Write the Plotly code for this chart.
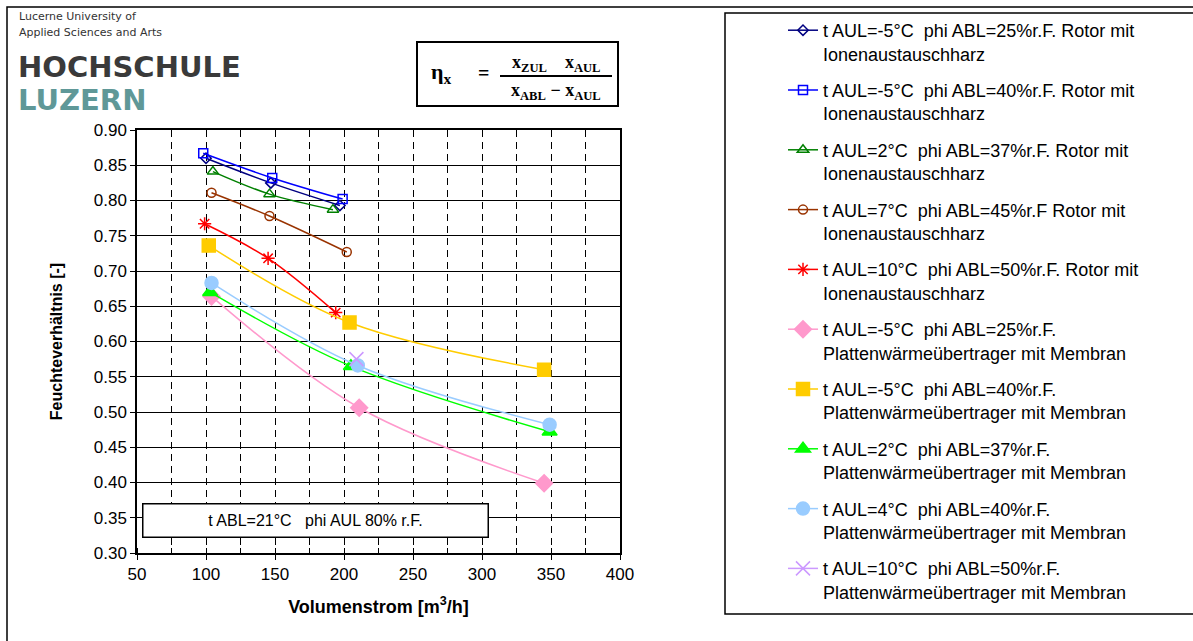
import plotly.graph_objects as go

# ---------------- data ----------------
x_rotor_m5_25 = [100, 147, 197]
y_rotor_m5_25 = [0.860, 0.825, 0.793]
x_rotor_m5_40 = [98, 148, 199]
y_rotor_m5_40 = [0.867, 0.832, 0.802]
x_rotor_2_37 = [105, 146, 192]
y_rotor_2_37 = [0.841, 0.809, 0.787]
x_rotor_7_45 = [104, 146, 202]
y_rotor_7_45 = [0.811, 0.778, 0.727]
x_rotor_10_50 = [99, 145, 194]
y_rotor_10_50 = [0.767, 0.718, 0.641]
x_platte_m5_25 = [104, 211, 345]
y_platte_m5_25 = [0.664, 0.506, 0.399]
x_platte_m5_40 = [102, 204, 345]
y_platte_m5_40 = [0.736, 0.627, 0.560]
x_platte_2_37 = [103, 205, 349]
y_platte_2_37 = [0.670, 0.565, 0.472]
x_platte_4_40 = [104, 210, 349]
y_platte_4_40 = [0.683, 0.566, 0.482]
x_platte_10_50 = [209]
y_platte_10_50 = [0.575]

S = "\u00a0"
names = [
    f"t AUL=-5°C{S} phi ABL=25%r.F. Rotor mit<br>Ionenaustauschharz",
    f"t AUL=-5°C{S} phi ABL=40%r.F. Rotor mit<br>Ionenaustauschharz",
    f"t AUL=2°C{S} phi ABL=37%r.F. Rotor mit<br>Ionenaustauschharz",
    f"t AUL=7°C{S} phi ABL=45%r.F Rotor mit<br>Ionenaustauschharz",
    f"t AUL=10°C{S} phi ABL=50%r.F. Rotor mit<br>Ionenaustauschharz",
    f"t AUL=-5°C{S} phi ABL=25%r.F.<br>Plattenwärmeübertrager mit Membran",
    f"t AUL=-5°C{S} phi ABL=40%r.F.<br>Plattenwärmeübertrager mit Membran",
    f"t AUL=2°C{S} phi ABL=37%r.F.<br>Plattenwärmeübertrager mit Membran",
    f"t AUL=4°C{S} phi ABL=40%r.F.<br>Plattenwärmeübertrager mit Membran",
    f"t AUL=10°C{S} phi ABL=50%r.F.<br>Plattenwärmeübertrager mit Membran",
]
xs = [x_rotor_m5_25, x_rotor_m5_40, x_rotor_2_37, x_rotor_7_45, x_rotor_10_50,
      x_platte_m5_25, x_platte_m5_40, x_platte_2_37, x_platte_4_40, x_platte_10_50]
ys = [y_rotor_m5_25, y_rotor_m5_40, y_rotor_2_37, y_rotor_7_45, y_rotor_10_50,
      y_platte_m5_25, y_platte_m5_40, y_platte_2_37, y_platte_4_40, y_platte_10_50]
colors = ["#000080", "#0000ff", "#008000", "#993300", "#ff0000",
          "#ff99cc", "#ffcc00", "#00ff00", "#99ccff", "#cc99ff"]
symbols = ["diamond-open", "square-open", "triangle-up-open", "circle-open", "asterisk-open",
           "diamond", "square", "triangle-up", "circle", "x-thin-open"]
sizes = [8, 9, 10, 9, 11, 13, 13, 13, 13, 14]

# ---------------- layout helpers (pixel -> paper) ----------------
W, H = 1193, 641
L, R, T, B = 137, 620, 130, 553
def px(x):
    return (x - L) / (R - L)
def py(y):
    return (B - y) / (B - T)

FONT = "Liberation Sans, Arial, sans-serif"

fig = go.Figure()
for i in range(10):
    fig.add_trace(go.Scatter(
        x=xs[i], y=ys[i], name=names[i], mode="lines+markers",
        line=dict(color=colors[i], width=1.5, shape="spline"),
        marker=dict(symbol=symbols[i], size=sizes[i], color=colors[i],
                    line=dict(color=colors[i], width=1.5)),
        legendgroup=f"g{i}",
    ))

fig.update_layout(
    width=W, height=H,
    margin=dict(l=L, r=W - R, t=T, b=H - B, autoexpand=False),
    paper_bgcolor="white", plot_bgcolor="white",
    font=dict(family=FONT, size=16, color="black"),
    showlegend=True,
    legend=dict(
        x=px(783), y=py(12), xanchor="left", yanchor="top",
        font=dict(family=FONT, size=18, color="black"),
        bgcolor="rgba(0,0,0,0)", borderwidth=0, maxheight=640,
        tracegroupgap=10, valign="top", traceorder="grouped",
    ),
    xaxis=dict(
        range=[50, 400], dtick=50, tick0=50,
        showgrid=True, gridcolor="black", gridwidth=1, griddash="7px,5px",
        ticks="outside", ticklen=5, tickcolor="black",
        minor=dict(dtick=25, tick0=50, showgrid=True, gridcolor="black", gridwidth=1,
                   griddash="7px,5px", ticks="inside", ticklen=5, tickcolor="black"),
        showline=True, linecolor="black", linewidth=1.5, mirror=True,
        tickfont=dict(family=FONT, size=17), zeroline=False,
        title=dict(text="<b>Volumenstrom [m<sup>3</sup>/h]</b>", standoff=17,
                   font=dict(family=FONT, size=18)),
    ),
    yaxis=dict(
        range=[0.30, 0.90], dtick=0.05, tick0=0.30, tickformat=".2f",
        showgrid=True, gridcolor="black", gridwidth=1,
        ticks="outside", ticklen=5, tickcolor="black",
        showline=True, linecolor="black", linewidth=1.5, mirror=True,
        tickfont=dict(family=FONT, size=17), zeroline=False,
        title=dict(text="<b>Feuchteverhältnis [-]</b>", standoff=27,
                   font=dict(family=FONT, size=16)),
    ),
)

shapes = []
# outer chart frame
shapes.append(dict(type="rect", xref="paper", yref="paper",
                   x0=px(7), x1=px(1205), y0=py(7), y1=py(660),
                   line=dict(color="black", width=1.5), layer="below"))
# legend frame
shapes.append(dict(type="rect", xref="paper", yref="paper",
                   x0=px(725), x1=px(1205), y0=py(13), y1=py(614),
                   line=dict(color="black", width=1.5), layer="below"))
# formula box
shapes.append(dict(type="rect", xref="paper", yref="paper",
                   x0=px(417), x1=px(618), y0=py(42), y1=py(106),
                   line=dict(color="black", width=2)))
# fraction bar
shapes.append(dict(type="line", xref="paper", yref="paper",
                   x0=px(500), x1=px(612), y0=py(76), y1=py(76),
                   line=dict(color="black", width=2)))
fig.update_layout(shapes=shapes)

ann = []
# logo
ann.append(dict(text="Lucerne University of", x=px(17), y=py(17), xref="paper", yref="paper",
                xanchor="left", yanchor="middle", showarrow=False,
                font=dict(family="DejaVu Sans, sans-serif", size=11, color="#333333")))
ann.append(dict(text="Applied Sciences and Arts", x=px(17), y=py(32), xref="paper", yref="paper",
                xanchor="left", yanchor="middle", showarrow=False,
                font=dict(family="DejaVu Sans, sans-serif", size=11, color="#333333")))
ann.append(dict(text="<b>HOCHSCHULE</b>", x=px(16), y=py(67), xref="paper", yref="paper",
                xanchor="left", yanchor="middle", showarrow=False,
                font=dict(family="DejaVu Sans, sans-serif", size=29, color="#3a3a3a")))
ann.append(dict(text="<b>LUZERN</b>", x=px(16), y=py(100), xref="paper", yref="paper",
                xanchor="left", yanchor="middle", showarrow=False,
                font=dict(family="DejaVu Sans, sans-serif", size=29, color="#5f9898")))
# formula
FF = "Liberation Serif, Times New Roman, serif"
ann.append(dict(text="<b>η<sub>x</sub></b>", x=px(441), y=py(73), xref="paper", yref="paper",
                xanchor="center", yanchor="middle", showarrow=False,
                font=dict(family=FF, size=22)))
ann.append(dict(text="<b>=</b>", x=px(483), y=py(73), xref="paper", yref="paper",
                xanchor="center", yanchor="middle", showarrow=False,
                font=dict(family=FF, size=20)))
ann.append(dict(text=f"<b>x<sub>ZUL</sub>{S}{S}{S}{S}x<sub>AUL</sub></b>", x=px(556), y=py(63),
                xref="paper", yref="paper", xanchor="center", yanchor="middle", showarrow=False,
                font=dict(family=FF, size=18)))
ann.append(dict(text="<b>x<sub>ABL</sub> − x<sub>AUL</sub></b>", x=px(556), y=py(91),
                xref="paper", yref="paper", xanchor="center", yanchor="middle", showarrow=False,
                font=dict(family=FF, size=18)))
# condition box
ann.append(dict(text=f"t ABL=21°C{S}{S} phi AUL 80% r.F.", x=px(315), y=py(520),
                xref="paper", yref="paper", xanchor="center", yanchor="middle", showarrow=False,
                width=344, height=32, bgcolor="white", bordercolor="black", borderwidth=1.5,
                borderpad=0, font=dict(family=FONT, size=16)))
fig.update_layout(annotations=ann)

fig.write_html("out.html")
